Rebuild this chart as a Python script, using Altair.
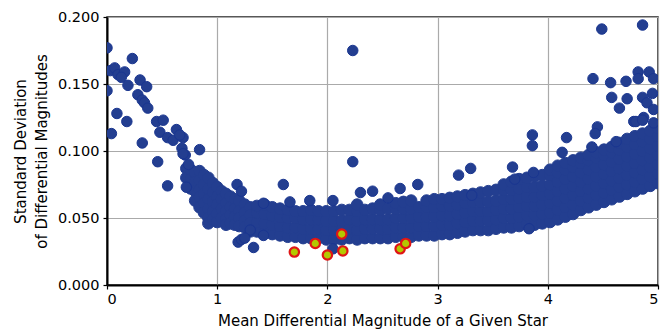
import altair as alt
import pandas as pd

# Scattered (outlying) stars: mean differential magnitude, std deviation
scatter_x = [0.00, 0.03, 0.07, 0.10, 0.16, 0.13, 0.23, 0.19, 0.00, 0.30, 0.36, 0.28, 0.32, 0.34,
             0.37, 0.09, 0.18, 0.04, 0.32, 0.45, 0.51, 0.48, 0.55, 0.63, 0.60, 0.69, 0.66, 0.68,
             0.71, 0.84, 0.46, 0.55, 0.69, 0.72, 0.74,
             1.18, 1.22, 1.60, 1.66, 1.84, 1.42, 1.30, 1.19, 1.22, 1.25, 1.33, 1.42, 2.23, 2.23,
             2.30, 2.41, 2.66, 2.82, 2.05, 2.55, 2.05, 3.19, 3.30, 3.31,
             3.68, 3.70, 3.86, 3.86, 3.87, 3.83, 4.17, 4.13, 4.45, 4.43, 4.40, 4.62, 4.78, 4.87,
             4.80, 4.86, 4.96, 4.49, 4.86, 4.41, 4.57, 4.71, 4.82, 4.92, 4.96, 4.82, 4.58, 4.72,
             4.65, 4.86, 4.95, 4.90, 4.96]
scatter_y = [0.177, 0.160, 0.162, 0.157, 0.159, 0.155, 0.169, 0.149, 0.145, 0.153, 0.148, 0.142, 0.138, 0.136,
             0.132, 0.128, 0.122, 0.113, 0.106, 0.122, 0.123, 0.114, 0.110, 0.116, 0.108, 0.110, 0.112, 0.102,
             0.097, 0.101, 0.092, 0.074, 0.098, 0.073, 0.090,
             0.075, 0.070, 0.075, 0.062, 0.063, 0.061, 0.041, 0.032, 0.034, 0.035, 0.028, 0.037, 0.175, 0.092,
             0.069, 0.070, 0.072, 0.075, 0.063, 0.065, 0.027, 0.082, 0.087, 0.067,
             0.088, 0.079, 0.112, 0.104, 0.084, 0.042, 0.110, 0.099, 0.118, 0.113, 0.103, 0.107, 0.122, 0.125,
             0.122, 0.123, 0.121, 0.191, 0.194, 0.154, 0.151, 0.152, 0.159, 0.159, 0.154, 0.154, 0.140, 0.139,
             0.132, 0.140, 0.143, 0.136, 0.131]

# Dense main band of stars, read column by column: (x, [y values])
band_cols = [
    (0.72, [0.087, 0.080]),
    (0.76, [0.086, 0.079, 0.072]),
    (0.80, [0.084, 0.077, 0.070, 0.063]),
    (0.84, [0.085, 0.078, 0.071, 0.066, 0.058]),
    (0.88, [0.082, 0.075, 0.068, 0.061, 0.054]),
    (0.92, [0.080, 0.072, 0.064, 0.057, 0.050, 0.046]),
    (0.96, [0.076, 0.069, 0.062, 0.055, 0.049]),
    (1.00, [0.073, 0.066, 0.060, 0.053, 0.047]),
    (1.04, [0.070, 0.064, 0.057, 0.050]),
    (1.08, [0.068, 0.061, 0.055, 0.049, 0.045]),
    (1.12, [0.066, 0.058, 0.052, 0.046]),
    (1.16, [0.064, 0.057, 0.051, 0.045]),
    (1.20, [0.063, 0.055, 0.050, 0.044]),
    (1.25, [0.060, 0.054, 0.048, 0.043]),
    (1.30, [0.058, 0.052, 0.046, 0.040]),
    (1.36, [0.040, 0.047, 0.054, 0.059]),
    (1.43, [0.039, 0.046, 0.053, 0.060]),
    (1.50, [0.038, 0.045, 0.052, 0.058]),
    (1.57, [0.037, 0.044, 0.051, 0.057]),
    (1.64, [0.036, 0.043, 0.050, 0.056]),
    (1.71, [0.036, 0.043, 0.050, 0.055]),
    (1.78, [0.035, 0.042, 0.049, 0.055]),
    (1.85, [0.035, 0.042, 0.049, 0.056]),
    (1.92, [0.035, 0.042, 0.049, 0.055]),
    (1.99, [0.034, 0.041, 0.048, 0.055]),
    (2.06, [0.034, 0.041, 0.048, 0.055]),
    (2.13, [0.034, 0.041, 0.048, 0.056]),
    (2.20, [0.035, 0.042, 0.049, 0.056]),
    (2.27, [0.034, 0.041, 0.048, 0.055, 0.060]),
    (2.34, [0.035, 0.042, 0.049, 0.056]),
    (2.41, [0.035, 0.042, 0.049, 0.057]),
    (2.48, [0.035, 0.042, 0.049, 0.056, 0.060]),
    (2.55, [0.035, 0.042, 0.049, 0.057]),
    (2.62, [0.036, 0.043, 0.050, 0.057, 0.061]),
    (2.69, [0.036, 0.043, 0.050, 0.057, 0.062]),
    (2.76, [0.036, 0.043, 0.050, 0.057, 0.063]),
    (2.83, [0.037, 0.044, 0.051, 0.058]),
    (2.90, [0.037, 0.044, 0.051, 0.058, 0.063]),
    (2.97, [0.037, 0.044, 0.051, 0.058, 0.064]),
    (3.04, [0.038, 0.045, 0.052, 0.059, 0.064]),
    (3.11, [0.038, 0.045, 0.052, 0.059, 0.065]),
    (3.18, [0.039, 0.046, 0.053, 0.060, 0.066]),
    (3.25, [0.040, 0.047, 0.054, 0.061, 0.067]),
    (3.32, [0.041, 0.048, 0.055, 0.062, 0.068]),
    (3.39, [0.041, 0.048, 0.055, 0.062, 0.069]),
    (3.46, [0.041, 0.048, 0.055, 0.062, 0.070]),
    (3.53, [0.042, 0.049, 0.056, 0.063, 0.071]),
    (3.60, [0.043, 0.050, 0.057, 0.064, 0.071, 0.075]),
    (3.67, [0.043, 0.050, 0.057, 0.064, 0.071, 0.077]),
    (3.74, [0.044, 0.051, 0.058, 0.065, 0.072, 0.079]),
    (3.81, [0.045, 0.052, 0.059, 0.066, 0.073, 0.080]),
    (3.88, [0.045, 0.052, 0.059, 0.066, 0.073, 0.081]),
    (3.95, [0.046, 0.053, 0.060, 0.067, 0.074, 0.082]),
    (4.02, [0.047, 0.054, 0.061, 0.068, 0.075, 0.082, 0.086]),
    (4.09, [0.049, 0.056, 0.063, 0.070, 0.077, 0.084, 0.089]),
    (4.16, [0.051, 0.058, 0.065, 0.072, 0.079, 0.086, 0.091]),
    (4.23, [0.053, 0.060, 0.067, 0.074, 0.081, 0.088, 0.093]),
    (4.30, [0.056, 0.063, 0.070, 0.077, 0.084, 0.091, 0.095]),
    (4.37, [0.058, 0.065, 0.072, 0.079, 0.086, 0.093, 0.097]),
    (4.44, [0.060, 0.067, 0.074, 0.081, 0.088, 0.095, 0.099]),
    (4.51, [0.062, 0.069, 0.076, 0.083, 0.090, 0.097, 0.101]),
    (4.58, [0.064, 0.071, 0.078, 0.085, 0.092, 0.099, 0.103]),
    (4.65, [0.066, 0.073, 0.080, 0.087, 0.094, 0.101, 0.106]),
    (4.72, [0.068, 0.075, 0.082, 0.089, 0.096, 0.103, 0.109]),
    (4.79, [0.070, 0.077, 0.084, 0.091, 0.098, 0.105, 0.111]),
    (4.86, [0.072, 0.079, 0.086, 0.093, 0.100, 0.107, 0.113]),
    (4.93, [0.074, 0.081, 0.088, 0.095, 0.102, 0.109, 0.115]),
    (5.00, [0.076, 0.083, 0.090, 0.097, 0.104, 0.111, 0.117]),
]

# Highlighted comparison stars
hl_x = [1.70, 1.89, 2.00, 2.13, 2.14, 2.66, 2.71]
hl_y = [0.0246, 0.031, 0.0224, 0.038, 0.0254, 0.027, 0.031]

x_ticks = [0, 1, 2, 3, 4, 5]
y_ticks = [0.0, 0.025, 0.05, 0.075, 0.1, 0.125, 0.15, 0.175, 0.2]

band_x = []
band_y = []
for cx, ys in band_cols:
    for yv in ys:
        band_x.append(cx)
        band_y.append(yv)

ds = pd.DataFrame({"x": scatter_x, "y": scatter_y})
db = pd.DataFrame({"x": band_x, "y": band_y})
dh = pd.DataFrame({"x": hl_x, "y": hl_y})

FONT = "DejaVu Sans"
BLUE = "#233e90"

xenc = alt.X("x:Q", scale=alt.Scale(domain=[0, 5], nice=False, zero=False),
             axis=alt.Axis(values=x_ticks, format="d",
                           title="Mean Differential Magnitude of a Given Star"))
yenc = alt.Y("y:Q", scale=alt.Scale(domain=[0, 0.2], nice=False),
             axis=alt.Axis(values=y_ticks, format=".3f",
                           title=["Standard Deviation", "of Differential Magnitudes"]))

band = alt.Chart(db).mark_circle(
    size=135, opacity=1, color=BLUE, stroke=BLUE, strokeWidth=1, clip=True
).encode(x=xenc, y=yenc)

outl = alt.Chart(ds).mark_circle(
    size=110, opacity=1, color=BLUE, stroke="#1a3690", strokeWidth=1, clip=True
).encode(x="x:Q", y="y:Q")

hl = alt.Chart(dh).mark_circle(
    size=88, opacity=1, color="#b4c800", stroke="#e01515", strokeWidth=2.2, clip=True
).encode(x="x:Q", y="y:Q")

chart = alt.layer(band, outl, hl).properties(
    width=551, height=268,
    autosize=alt.AutoSizeParams(type="none"),
    padding={"left": 107, "top": 17, "right": 14, "bottom": 48},
).configure_view(
    stroke="#222222", strokeWidth=1.5
).configure_axis(
    labelFont=FONT, titleFont=FONT, labelFontSize=14.5, titleFontSize=15,
    labelColor="black", titleColor="black", titleFontWeight="normal",
    domainColor="black", domainWidth=2, tickColor="black", tickSize=4, tickWidth=1.2,
    gridColor="#aaaaaa", gridWidth=1.2, labelPadding=3,
).configure_axisX(
    titlePadding=8
).configure_axisY(
    titlePadding=8, titleLineHeight=21, labelPadding=4
)

chart.save("out.html", embed_options={"renderer": "svg", "actions": False})
